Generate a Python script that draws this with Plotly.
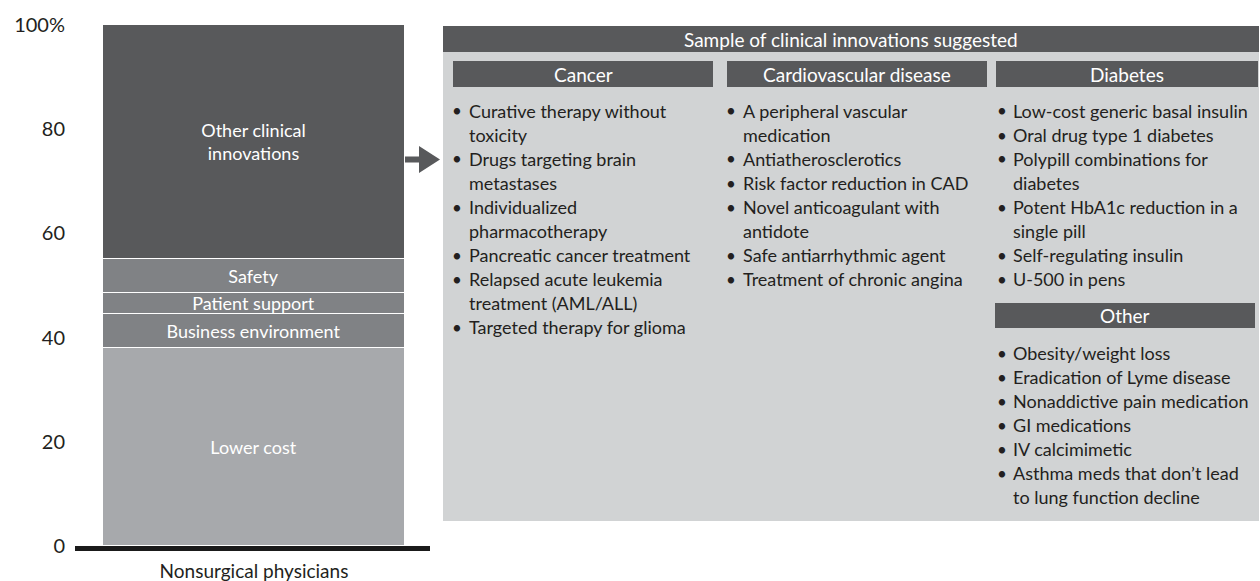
import plotly.graph_objects as go

W, H = 1260, 581
FONT = "Lato"
TEXT = "#231f20"

# ---- data ----
category = ["Nonsurgical physicians"]
segments = ["Lower cost", "Business environment", "Patient support", "Safety",
            "Other clinical innovations"]
segment_labels = ["Lower cost", "Business environment", "Patient support", "Safety",
                  "Other clinical<br>innovations"]
segment_values = [38, 6.5, 4, 6.5, 45]
segment_colors = ["#a7a9ac", "#808285", "#808285", "#808285", "#58595b"]
y_tickvals = [0, 20, 40, 60, 80, 100]
y_ticktext = ["0", "20", "40", "60", "80", "100%"]

panel_title = "Sample of clinical innovations suggested"
group_titles = ["Cancer", "Cardiovascular disease", "Diabetes", "Other"]
cancer_items = [["Curative therapy without", "toxicity"],
                ["Drugs targeting brain", "metastases"],
                ["Individualized", "pharmacotherapy"],
                ["Pancreatic cancer treatment"],
                ["Relapsed acute leukemia", "treatment (AML/ALL)"],
                ["Targeted therapy for glioma"]]
cardio_items = [["A peripheral vascular", "medication"],
                ["Antiatherosclerotics"],
                ["Risk factor reduction in CAD"],
                ["Novel anticoagulant with", "antidote"],
                ["Safe antiarrhythmic agent"],
                ["Treatment of chronic angina"]]
diabetes_items = [["Low-cost generic basal insulin"],
                  ["Oral drug type 1 diabetes"],
                  ["Polypill combinations for", "diabetes"],
                  ["Potent HbA1c reduction in a", "single pill"],
                  ["Self-regulating insulin"],
                  ["U-500 in pens"]]
other_items = [["Obesity/weight loss"],
               ["Eradication of Lyme disease"],
               ["Nonaddictive pain medication"],
               ["GI medications"],
               ["IV calcimimetic"],
               ["Asthma meds that don\u2019t lead", "to lung function decline"]]


def px(x):
    return x / W


def py(y):
    return 1 - y / H


fig = go.Figure()
for name, lab, val, col in zip(segments, segment_labels, segment_values, segment_colors):
    fig.add_trace(go.Bar(
        x=category, y=[val], name=name, text=[lab],
        marker=dict(color=col, line=dict(color="white", width=1)),
        textposition="inside", insidetextanchor="middle", textangle=0,
        constraintext="none",
        textfont=dict(color="white", size=18, family=FONT),
        width=0.851, hoverinfo="skip", showlegend=False))

shapes = []
annotations = []

# arrow from bar to panel
arrow = "M {} {} L {} {} L {} {} L {} {} L {} {} L {} {} L {} {} Z".format(
    px(405), py(156.5), px(419), py(156.5), px(419), py(146), px(440), py(159.5),
    px(419), py(173), px(419), py(162.5), px(405), py(162.5))
shapes.append(dict(type="path", path=arrow, xref="paper", yref="paper",
                   fillcolor="#58595b", line=dict(width=0)))

# panel background and title bar
shapes.append(dict(type="rect", xref="paper", yref="paper",
                   x0=px(443), x1=px(1259), y0=py(521), y1=py(26),
                   fillcolor="#d1d3d4", line=dict(width=0), layer="below"))
shapes.append(dict(type="rect", xref="paper", yref="paper",
                   x0=px(443), x1=px(1259), y0=py(52), y1=py(26),
                   fillcolor="#58595b", line=dict(width=0)))
annotations.append(dict(text=panel_title, xref="paper", yref="paper",
                        x=px(851), y=py(39.5), xanchor="center", yanchor="middle",
                        showarrow=False, font=dict(color="white", size=19, family=FONT)))

headers = [(group_titles[0], 453, 713, 61, 87),
           (group_titles[1], 727, 987, 61, 87),
           (group_titles[2], 996, 1258, 61, 87),
           (group_titles[3], 995, 1255, 303, 328)]
for t, x0, x1, y0, y1 in headers:
    shapes.append(dict(type="rect", xref="paper", yref="paper",
                       x0=px(x0), x1=px(x1), y0=py(y1), y1=py(y0),
                       fillcolor="#58595b", line=dict(width=0)))
    annotations.append(dict(text=t, xref="paper", yref="paper",
                            x=px((x0 + x1) / 2), y=py((y0 + y1) / 2),
                            xanchor="center", yanchor="middle", showarrow=False,
                            font=dict(color="white", size=19, family=FONT)))


def add_list(items, bullet_x, text_x, start_y, step=24):
    y = start_y
    for item in items:
        annotations.append(dict(text="\u2022", xref="paper", yref="paper",
                                x=px(bullet_x), y=py(y), xanchor="center",
                                yanchor="middle", showarrow=False,
                                font=dict(color=TEXT, size=17, family=FONT)))
        for line in item:
            annotations.append(dict(text=line, xref="paper", yref="paper",
                                    x=px(text_x - 2), y=py(y), xanchor="left",
                                    yanchor="middle", showarrow=False,
                                    font=dict(color=TEXT, size=18, family=FONT)))
            y += step


add_list(cancer_items, 457, 469, 111)
add_list(cardio_items, 731, 743, 111)
add_list(diabetes_items, 1002, 1013, 111)
add_list(other_items, 1002, 1013, 353)

fig.update_layout(
    width=W, height=H, autosize=False,
    margin=dict(l=0, r=0, t=0, b=0),
    paper_bgcolor="white", plot_bgcolor="white",
    barmode="stack", bargap=0,
    shapes=shapes, annotations=annotations,
    font=dict(family=FONT, color=TEXT),
    xaxis=dict(domain=[px(75), px(430)], range=[-0.5042, 0.4958],
               showline=True, linewidth=5, linecolor="#1a1a1a",
               showgrid=False, zeroline=False, ticks="",
               ticklabelstandoff=4,
               tickfont=dict(size=19, color=TEXT, family=FONT),
               automargin=False, fixedrange=True),
    yaxis=dict(domain=[py(546), py(25)], range=[0, 100],
               tickvals=y_tickvals, ticktext=y_ticktext,
               showline=False, showgrid=False, zeroline=False, ticks="",
               ticklabelstandoff=9,
               tickfont=dict(size=20, color=TEXT, family=FONT),
               automargin=False, fixedrange=True),
)

fig.write_html("out.html",
               config={"displayModeBar": False},
               post_script="document.body.style.margin='0px';"
                           "document.body.style.overflow='hidden';")
